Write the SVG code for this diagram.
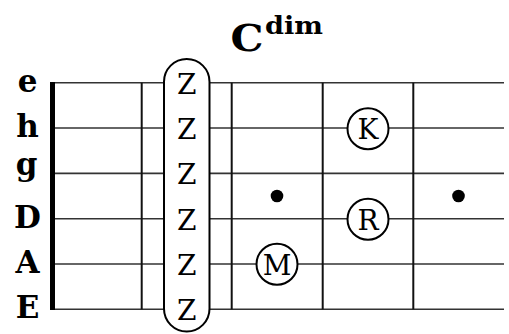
<svg xmlns="http://www.w3.org/2000/svg" width="509" height="334" viewBox="0 0 509 334">
<style>
.str{stroke:#333;stroke-width:1.6;fill:none}
.fret{stroke:#111;stroke-width:2;fill:none}
.lbl{font-family:"DejaVu Serif",serif;font-weight:bold;font-size:31px;fill:#000;text-anchor:middle}
.mono{font-family:"DejaVu Serif",serif;font-size:28px;fill:#000;text-anchor:middle}
.ring{fill:#fff;stroke:#000;stroke-width:2}
.dot{fill:#000}
</style>
<rect width="509" height="334" fill="#fff"/>
<g id="title">
<text x="230.5" y="51" font-family="DejaVu Serif, serif" font-weight="bold" font-size="38" textLength="33" lengthAdjust="spacingAndGlyphs">C</text>
<text x="265" y="34.3" font-family="DejaVu Serif, serif" font-weight="bold" font-size="23.5" textLength="58" lengthAdjust="spacingAndGlyphs">dim</text>
</g>
<g id="labels">
<text class="lbl" x="27.5" y="91.7">e</text>
<text class="lbl" x="27.5" y="137">h</text>
<text class="lbl" x="26.5" y="175">g</text>
<text class="lbl" x="27.5" y="228.3">D</text>
<text class="lbl" x="27.5" y="273.3">A</text>
<text class="lbl" x="27.5" y="318.3">E</text>
</g>
<g id="connectors">
<line class="str" x1="52" y1="82.7" x2="504" y2="82.7"/>
<line class="str" x1="52" y1="128" x2="504" y2="128"/>
<line class="str" x1="52" y1="173.4" x2="504" y2="173.4"/>
<line class="str" x1="52" y1="218.7" x2="504" y2="218.7"/>
<line class="str" x1="52" y1="264" x2="504" y2="264"/>
<line class="str" x1="52" y1="309.3" x2="504" y2="309.3"/>
<line class="fret" x1="141.7" y1="82.7" x2="141.7" y2="309.3"/>
<line class="fret" x1="231.7" y1="82.7" x2="231.7" y2="309.3"/>
<line class="fret" x1="322.7" y1="82.7" x2="322.7" y2="309.3"/>
<line class="fret" x1="413.3" y1="82.7" x2="413.3" y2="309.3"/>
<line x1="52.5" y1="81.9" x2="52.5" y2="310.1" stroke="#000" stroke-width="5"/>
</g>
<g id="barre">
<rect class="ring" x="164" y="59" width="45.5" height="272.5" rx="22.75" ry="22.75"/>
<text class="mono" x="186.7" y="93.7">Z</text>
<text class="mono" x="186.7" y="139">Z</text>
<text class="mono" x="186.7" y="184.3">Z</text>
<text class="mono" x="186.7" y="229.6">Z</text>
<text class="mono" x="186.7" y="274.9">Z</text>
<text class="mono" x="186.7" y="320.2">Z</text>
</g>
<g id="dot1"><circle class="dot" cx="277" cy="196" r="6.3"/></g>
<g id="dot2"><circle class="dot" cx="458.5" cy="196" r="6.3"/></g>
<g id="nodeK"><circle class="ring" cx="368" cy="128.8" r="20.5"/><text class="mono" x="368" y="139.3">K</text></g>
<g id="nodeR"><circle class="ring" cx="368" cy="219.2" r="20.5"/><text class="mono" x="368" y="229.7">R</text></g>
<g id="nodeM"><circle class="ring" cx="277" cy="264.2" r="20.5"/><text class="mono" x="277" y="274.7">M</text></g>
</svg>
